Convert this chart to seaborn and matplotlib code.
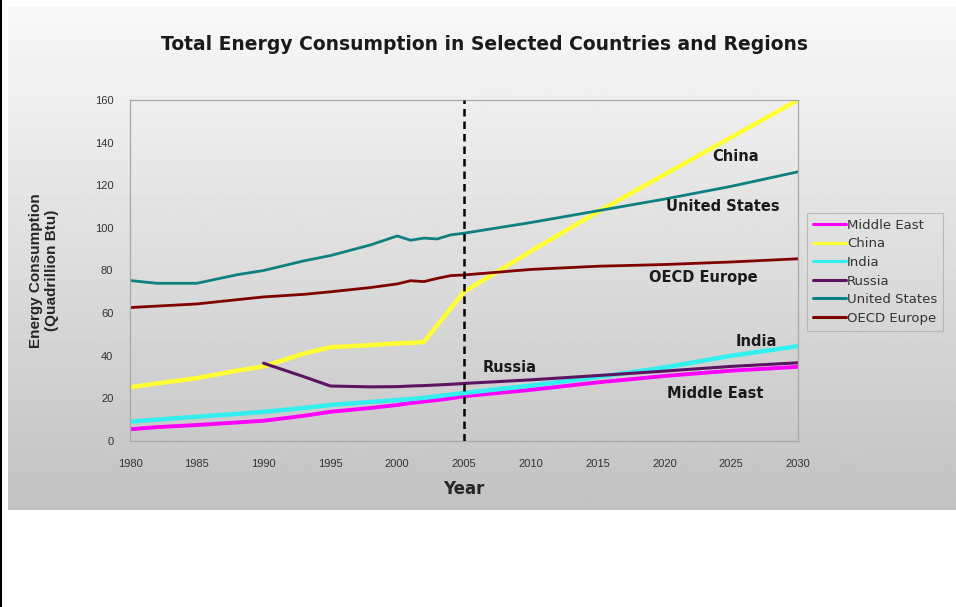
import numpy as np
import pandas as pd
import matplotlib
matplotlib.use("Agg")
import matplotlib.pyplot as plt
import seaborn as sns
from matplotlib.lines import Line2D

# ---------------- data ----------------
years = [1980, 1982, 1985, 1988, 1990, 1993, 1995, 1998, 2000, 2001, 2002, 2003, 2004,
         2005, 2010, 2015, 2020, 2025, 2030]
middle_east = [5.5, 6.5, 7.5, 8.7, 9.5, 11.8, 13.7, 15.5, 16.9, 17.8, 18.5, 19.2, 20.0,
               21.0, 24.0, 27.5, 30.5, 33.0, 34.8]
china = [25.2, 27.0, 29.5, 33.0, 35.0, 41.0, 44.0, 45.0, 45.8, 46.0, 46.5, 54.3, 62.2,
         70.0, 89.0, 107.5, 125.0, 142.5, 160.0]
india = [9.1, 10.0, 11.4, 12.7, 13.7, 15.5, 16.9, 18.3, 19.2, 19.7, 20.3, 21.0, 21.8,
         22.5, 26.0, 30.0, 34.5, 40.0, 44.5]
russia = [np.nan, np.nan, np.nan, np.nan, 36.5, 30.2, 25.8, 25.4, 25.5, 25.8, 26.0, 26.3, 26.6,
          27.0, 28.7, 30.7, 32.8, 35.0, 36.7]
united_states = [75.3, 74.0, 74.0, 78.0, 80.0, 84.5, 87.0, 92.0, 96.2, 94.2, 95.2, 94.8, 96.7,
                 97.5, 102.5, 108.0, 113.5, 119.5, 126.3]
oecd_europe = [62.6, 63.3, 64.3, 66.3, 67.6, 68.8, 70.0, 72.0, 73.7, 75.2, 74.8, 76.3, 77.6,
               77.9, 80.5, 82.0, 82.8, 84.0, 85.5]

series_names = ["Middle East", "China", "India", "Russia", "United States", "OECD Europe"]
series_values = [middle_east, china, india, russia, united_states, oecd_europe]
colors = ["#ff00ff", "#ffff33", "#33f0f0", "#5c1460", "#0d8080", "#800000"]
widths = [2.8, 3.2, 3.2, 2.2, 2.0, 2.0]

x_ticks = [1980, 1985, 1990, 1995, 2000, 2005, 2010, 2015, 2020, 2025, 2030]
y_ticks = [0, 20, 40, 60, 80, 100, 120, 140, 160]

labels_text = ["China", "United States", "OECD Europe", "India", "Russia", "Middle East"]
labels_x = [2025.3, 2024.4, 2022.9, 2026.9, 2008.4, 2023.8]
labels_y = [133.3, 109.8, 76.5, 46.5, 34.3, 22.5]

df = pd.DataFrame(
    [(y, n, v) for n, vals in zip(series_names, series_values) for y, v in zip(years, vals)],
    columns=["Year", "Region", "Value"],
).dropna()

# ---------------- figure ----------------
sns.set_theme(style="white")
plt.rcParams["font.family"] = ["Liberation Sans", "DejaVu Sans"]

W, H = 956, 607
fig = plt.figure(figsize=(W / 100, H / 100), dpi=100)
fig.patch.set_facecolor("white")

# gradient panel
bg = fig.add_axes([8 / W, 1 - 510 / H, (W - 8) / W, (510 - 7) / H], zorder=0)
grad = np.linspace(0.975, 0.76, 256).reshape(-1, 1)
bg.imshow(grad, aspect="auto", cmap="gray", vmin=0, vmax=1, extent=[0, 1, 0, 1], origin="upper")
bg.set_axis_off()

# left black border
fig.add_artist(Line2D([1 / W, 1 / W], [0, 1], transform=fig.transFigure, color="black", lw=1.5))

ax = fig.add_axes([130 / W, 1 - 441 / H, (798 - 130) / W, (441 - 100) / H], zorder=1)
ax.set_facecolor("none")

sns.lineplot(data=df, x="Year", y="Value", hue="Region", hue_order=series_names,
             palette=dict(zip(series_names, colors)), ax=ax, legend=False, sort=True)
for line, w in zip(ax.get_lines(), widths):
    line.set_linewidth(w)
    line.set_solid_capstyle("round")

ax.axvline(2005, color="black", lw=1.8, ls=(0, (3, 2)), zorder=5)

ax.set_xlim(1980, 2030)
ax.set_ylim(0, 160)
ax.set_xticks(x_ticks)
ax.set_yticks(y_ticks)
ax.tick_params(axis="both", labelsize=8, colors="#999999", labelcolor="#333333",
               length=5, width=0.8, direction="out", pad=7)
ax.tick_params(axis="x", pad=8)
for s in ax.spines.values():
    s.set_visible(True)
    s.set_color("#a8a8a8")
    s.set_linewidth(0.9)

ax.set_xlabel("Year", fontsize=12, fontweight="bold", family="DejaVu Sans", labelpad=8)
ax.set_ylabel("Energy Consumption\n(Quadrillion Btu)", fontsize=11, fontweight="bold",
              labelpad=26, linespacing=1.15)

for t, xx, yy in zip(labels_text, labels_x, labels_y):
    ax.text(xx, yy, t, ha="center", va="center", fontsize=10.5, fontweight="bold",
            family="DejaVu Sans", color="#1a1a1a")

fig.text(484 / W, 1 - 44 / H, "Total Energy Consumption in Selected Countries and Regions",
         ha="center", va="center", fontsize=13.5, fontweight="bold", family="DejaVu Sans",
         color="#1a1a1a")

handles = [Line2D([], [], color=c, lw=2.2) for c in colors]
leg = fig.legend(handles, series_names, loc="upper left",
                 bbox_to_anchor=(807 / W, 1 - 213 / H), frameon=True, fancybox=False,
                 fontsize=9.5, handlelength=2.5, handletextpad=0.1, labelspacing=0.42,
                 borderpad=0.45, borderaxespad=0)
leg.get_frame().set_facecolor("none")
leg.get_frame().set_edgecolor("#b0b0b0")
leg.get_frame().set_linewidth(0.8)
for t in leg.get_texts():
    t.set_family("DejaVu Sans")
    t.set_color("#333333")

fig.savefig("out.png", dpi=100, facecolor="white")
